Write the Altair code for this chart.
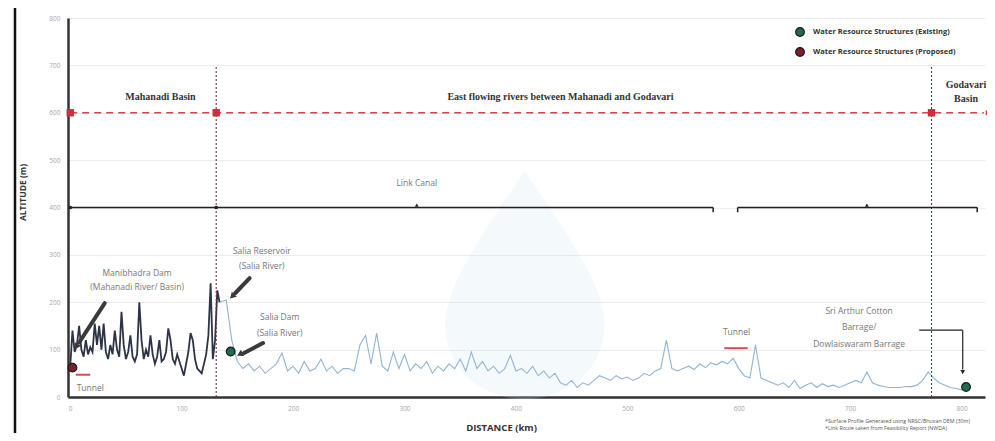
import altair as alt
import pandas as pd

# ---------------- data ----------------
dark_km = list(range(0, 136, 2))
dark_alt = [65, 140, 95, 110, 150, 100, 85, 120, 90, 105,
            95, 155, 110, 150, 100, 155, 95, 80, 110, 90,
            140, 100, 85, 180, 110, 80, 95, 130, 85, 75,
            90, 200, 120, 80, 100, 85, 130, 90, 70, 85,
            120, 75, 80, 95, 145, 120, 80, 70, 90, 75,
            60, 45, 70, 95, 135, 120, 80, 60, 55, 50,
            70, 90, 130, 240, 80, 120, 225, 200]

light_km = [134] + list(range(140, 806, 5))
light_alt = [200,
             205, 120, 75, 60, 70, 55, 65, 50, 60, 70,
             93, 55, 65, 50, 75, 55, 60, 80, 55, 65,
             50, 60, 60, 55, 110, 130, 70, 135, 65, 55,
             95, 60, 90, 55, 70, 60, 75, 50, 65, 55,
             70, 60, 80, 55, 95, 60, 75, 55, 65, 50,
             60, 88, 55, 60, 50, 65, 45, 55, 40, 50,
             30, 25, 35, 20, 30, 25, 35, 45, 40, 35,
             45, 38, 42, 35, 40, 50, 45, 55, 60, 120,
             60, 55, 60, 65, 58, 70, 62, 72, 68, 75,
             70, 82, 60, 45, 40, 110, 40, 35, 30, 25,
             30, 20, 35, 18, 25, 30, 20, 28, 22, 25,
             20, 25, 30, 35, 30, 53, 30, 25, 22, 20,
             20, 20, 22, 22, 25, 35, 53, 40, 30, 25,
             20, 18, 15, 20]

struct_km = [2, 144, 804]
struct_alt = [62, 96, 21]
struct_type = ["Water Resource Structures (Proposed)",
               "Water Resource Structures (Existing)",
               "Water Resource Structures (Existing)"]
legend_labels = ["Water Resource Structures (Existing)",
                 "Water Resource Structures (Proposed)"]

basin_boundary_km = [131, 773]
basin_line_alt = 600
basin_marker_km = [0, 131, 773]
basin_label_text = ["Mahanadi Basin",
                    "East flowing rivers between Mahanadi and  Godavari",
                    "Godavari", "Basin"]
basin_label_km = [81, 440, 804, 804]
basin_label_alt = [633, 633, 658, 629]

canal_alt = 400
canal_start_km = [0, 599]
canal_end_km = [577, 814]
canal_hook_km = [577, 599, 814]
canal_tip_km = [311, 715]

annot_text = ["Manibhadra  Dam", "(Mahanadi River/ Basin)", "Tunnel",
              "Salia Reservoir", "(Salia River)", "Salia Dam", "(Salia River)",
              "Link Canal", "Tunnel",
              "Sri Arthur Cotton", "Barrage/", "Dowlaiswaram Barrage"]
annot_km = [60, 60, 18, 172, 172, 188, 188, 311, 598, 708, 708, 708]
annot_alt = [262, 232, 19, 308, 276, 169, 135, 451, 137, 181, 148, 112]

arrow_km = [31, 161, 173]
arrow_alt = [198, 251, 114]
arrow_km2 = [8, 148, 156]
arrow_alt2 = [115, 219, 93]
head_km = [6, 146, 153]
head_alt = [108, 214, 91]
head_angle = [213, 225, 243]

leader_km = [762, 801]
leader_alt = [141, 141]
leader_km2 = [801, 801]
leader_alt2 = [141, 58]

tunnel_km = [5, 587]
tunnel_km2 = [18, 608]
tunnel_alt = [47, 103]

footnotes = ["*Surface Profile Generated using NRSC/Bhuvan DEM (30m)",
             "*Link Route taken from Feasibility Report (NWDA)"]

x_ticks = [0, 100, 200, 300, 400, 500, 600, 700, 800]
y_ticks = [0, 100, 200, 300, 400, 500, 600, 700, 800]

# watermark position (decorative)
wm_km = [408]
wm_alt = [236]

# ---------------- encodings ----------------
XS = alt.Scale(domain=[-2, 821], nice=False, zero=False)
YS = alt.Scale(domain=[0, 800], nice=False)

x_axis = alt.Axis(values=x_ticks, ticks=False, grid=False, domainColor="#333",
                  domainWidth=2.5, labelFontSize=6.5, labelColor="#a8a8a8",
                  labelPadding=8, titleFontSize=9.5, titleFontWeight="bold",
                  titleColor="#333", titleX=433, titleY=30, titleAlign="center",
                  titleBaseline="middle", labelFont="Open Sans", titleFont="Open Sans")
y_axis = alt.Axis(values=y_ticks, ticks=False, grid=True, gridColor="#ececec",
                  domainColor="#333", domainWidth=2.5, labelFontSize=6.5,
                  labelColor="#a8a8a8", labelPadding=8, titleFontSize=8.5,
                  titleFontWeight="bold", titleColor="#333", titleX=-46, titleY=174,
                  titleAlign="center", titleBaseline="middle",
                  labelFont="Open Sans", titleFont="Open Sans")


def X(f="km"):
    return alt.X(f"{f}:Q", scale=XS, axis=x_axis, title="DISTANCE (km)")


def Y(f="alt"):
    return alt.Y(f"{f}:Q", scale=YS, axis=y_axis, title="ALTITUDE (m)")


# ---------------- layers ----------------
drop_path = ("M0,-1 C0.45,-0.35 0.7,0.05 0.7,0.35 "
             "C0.7,0.75 0.35,1 0,1 C-0.35,1 -0.7,0.75 -0.7,0.35 "
             "C-0.7,0.05 -0.45,-0.35 0,-1 Z")
wm_df = pd.DataFrame({"km": wm_km, "alt": wm_alt})
watermark = alt.Chart(wm_df).mark_point(shape=drop_path, filled=True, color="#cfe2f3",
                                        opacity=0.22, size=52000).encode(x=X(), y=Y())

dark_df = pd.DataFrame({"km": dark_km, "alt": dark_alt})
light_df = pd.DataFrame({"km": light_km, "alt": light_alt})

light_line = alt.Chart(light_df).mark_line(color="#92b4d4", strokeWidth=1.1).encode(x=X(), y=Y())
dark_line = alt.Chart(dark_df).mark_line(color="#2c3447", strokeWidth=1.8).encode(x=X(), y=Y())

# basin boundary verticals
bnd_df = pd.DataFrame({"km": basin_boundary_km, "alt": [0, 0], "alt2": [700, 700]})
bnd = alt.Chart(bnd_df).mark_rule(color="#8b2a3a", strokeWidth=1.1, strokeDash=[2, 2]).encode(
    x=X(), y=Y(), y2="alt2:Q")

# red dashed basin line
bl_df = pd.DataFrame({"km": [0], "km2": [820], "alt": [basin_line_alt]})
bline = alt.Chart(bl_df).mark_rule(color="#d8424c", strokeWidth=1.6, strokeDash=[7, 5]).encode(
    x=X(), x2="km2:Q", y=Y())
bm_df = pd.DataFrame({"km": basin_marker_km, "alt": [basin_line_alt] * 3})
bmark = alt.Chart(bm_df).mark_point(shape="square", filled=True, color="#c8303b",
                                    size=55, opacity=1).encode(x=X(), y=Y())
barrow_df = pd.DataFrame({"km": [823], "alt": [basin_line_alt], "ang": [90]})
barrow = alt.Chart(barrow_df).mark_point(shape="triangle", filled=True, color="#d8424c",
                                         size=30, opacity=1).encode(
    x=X(), y=Y(), angle=alt.Angle("ang:Q", scale=None))

blab_df = pd.DataFrame({"km": basin_label_km, "alt": basin_label_alt, "t": basin_label_text})
blab = alt.Chart(blab_df).mark_text(font="Liberation Serif", fontWeight="bold", fontSize=10,
                                    color="#333").encode(x=X(), y=Y(), text="t:N")

# link canal
cn_df = pd.DataFrame({"km": canal_start_km, "km2": canal_end_km, "alt": [canal_alt] * 2})
canal = alt.Chart(cn_df).mark_rule(color="#222", strokeWidth=1.5).encode(x=X(), x2="km2:Q", y=Y())
hk_df = pd.DataFrame({"km": canal_hook_km, "alt": [canal_alt] * 3, "alt2": [canal_alt - 10] * 3})
hooks = alt.Chart(hk_df).mark_rule(color="#222", strokeWidth=1.5).encode(x=X(), y=Y(), y2="alt2:Q")
tp_df = pd.DataFrame({"km": canal_tip_km, "alt": [canal_alt + 4] * 2})
tips = alt.Chart(tp_df).mark_point(shape="triangle", filled=True, color="#222", size=14,
                                   opacity=1).encode(x=X(), y=Y())
cd_df = pd.DataFrame({"km": [0, 131], "alt": [canal_alt] * 2})
cdots = alt.Chart(cd_df).mark_point(shape="circle", filled=True, color="#222", size=14,
                                    opacity=1).encode(x=X(), y=Y())

# tunnels (red brackets)
tn_df = pd.DataFrame({"km": tunnel_km, "km2": tunnel_km2, "alt": tunnel_alt})
tunnels = alt.Chart(tn_df).mark_rule(color="#d84a57", strokeWidth=2).encode(x=X(), x2="km2:Q", y=Y())

# arrows
ar_df = pd.DataFrame({"km": arrow_km, "km2": arrow_km2, "alt": arrow_alt, "alt2": arrow_alt2})
arrows = alt.Chart(ar_df).mark_rule(color="#3a3a3a", strokeWidth=4, strokeCap="round").encode(
    x=X(), x2="km2:Q", y=Y(), y2="alt2:Q")
ah_df = pd.DataFrame({"km": head_km, "alt": head_alt, "ang": head_angle})
aheads = alt.Chart(ah_df).mark_point(shape="triangle", filled=True, color="#3a3a3a", size=50,
                                     opacity=1).encode(
    x=X(), y=Y(), angle=alt.Angle("ang:Q", scale=None))

ld_df = pd.DataFrame({"km": leader_km, "km2": leader_km2, "alt": leader_alt, "alt2": leader_alt2})
leader = alt.Chart(ld_df).mark_rule(color="#222", strokeWidth=1.2).encode(
    x=X(), x2="km2:Q", y=Y(), y2="alt2:Q")
lh_df = pd.DataFrame({"km": [801], "alt": [54], "ang": [180]})
lhead = alt.Chart(lh_df).mark_point(shape="triangle", filled=True, color="#222", size=22,
                                    opacity=1).encode(
    x=X(), y=Y(), angle=alt.Angle("ang:Q", scale=None))

# annotations
an_df = pd.DataFrame({"km": annot_km, "alt": annot_alt, "t": annot_text})
annots = alt.Chart(an_df).mark_text(font="Open Sans", fontSize=8.5, color="#777").encode(
    x=X(), y=Y(), text="t:N")

# structures
st_df = pd.DataFrame({"km": struct_km, "alt": struct_alt, "type": struct_type})
structs = alt.Chart(st_df).mark_point(shape="circle", filled=True, size=75, opacity=1,
                                      stroke="#1a1a1a", strokeWidth=1.2).encode(
    x=X(), y=Y(),
    color=alt.Color("type:N",
                    scale=alt.Scale(domain=legend_labels, range=["#1f6b4f", "#7b1e2e"]),
                    legend=alt.Legend(title=None, orient="none", legendX=727, legendY=9,
                                      labelFontSize=7.5, labelFontWeight="bold",
                                      labelColor="#333", labelFont="Open Sans",
                                      symbolSize=75, symbolStrokeColor="#1a1a1a",
                                      symbolStrokeWidth=1.2, rowPadding=6,
                                      labelOffset=8, padding=0)))

# footnotes & frame (page furniture)
fn_df = pd.DataFrame({"t": footnotes, "yy": [403, 410]})
fnotes = alt.Chart(fn_df).mark_text(font="Open Sans", fontSize=5.3, color="#555",
                                    align="left", baseline="middle").encode(
    x=alt.value(757), y=alt.Y("yy:Q", scale=None), text="t:N")

frame = alt.Chart(pd.DataFrame({"a": [0]})).mark_rule(color="#111", strokeWidth=2.5).encode(
    x=alt.value(-53), y=alt.value(-12), y2=alt.value(430))

chart = alt.layer(
    watermark, light_line, dark_line, bnd, bline, bmark, barrow, blab,
    canal, hooks, tips, cdots, tunnels, arrows, aheads, leader, lhead,
    annots, structs, fnotes, frame
).properties(
    width=917, height=379,
    autosize=alt.AutoSizeParams(type="none"),
    padding={"left": 60, "top": 10, "right": 2, "bottom": 36},
    background="white"
).configure_view(stroke=None)

chart.save("out.html", embed_options={"renderer": "svg", "actions": False})
